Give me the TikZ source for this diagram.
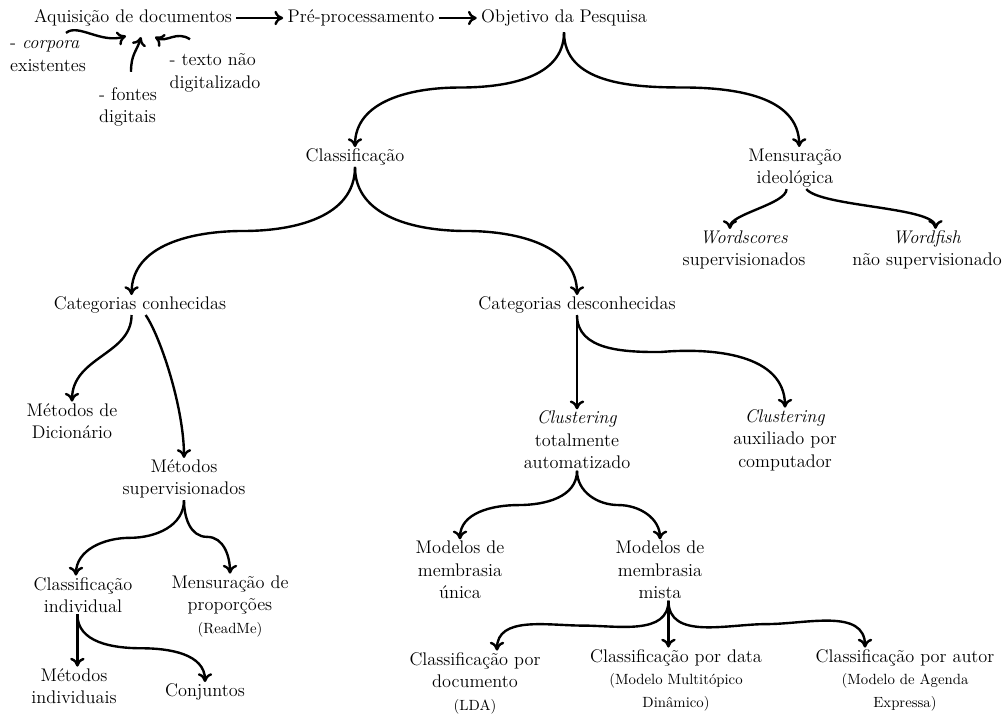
\documentclass[tikz,border=0pt]{standalone}
\usepackage{tikz}
\usetikzlibrary{calc,arrows.meta}
\newcommand{\pequeno}{\fontsize{10.5}{12}\selectfont}

\begin{document}
\begin{tikzpicture}[x=0.025cm, y=-0.025cm,
  every node/.style={font=\fontsize{13}{16}\selectfont, inner sep=1pt, align=center},
  seta/.style={-{To[length=2.2mm,width=3.6mm]}, line width=1.7pt}]
\useasboundingbox (0,0) rectangle (1003,713);

% linha de cima
\node (aq) at (133,18) {Aquisição de documentos};
\node (pre) at (361,18) {Pré-processamento};
\node (obj) at (564,18) {Objetivo da Pesquisa};
\draw[seta] ([xshift=2pt]aq.east) -- ([xshift=-2pt]pre.west);
\draw[seta] ([xshift=2pt]pre.east) -- ([xshift=-2pt]obj.west);

\node[align=left] (corp) at (48,56) {- \emph{corpora}\\existentes};
\node[align=left] (fon) at (128,107) {- fontes\\digitais};
\node[align=left] (tex) at (215,73) {- texto não\\digitalizado};
\draw[seta] ([shift={(18,-6)}]corp.north) .. controls +(12,-10) and +(-25,8) .. ([shift={(-7,8)}]aq.south);
\draw[seta] ([shift={(3,-14)}]fon.north) .. controls +(0,-18) and +(-4,14) .. ([shift={(8,9)}]aq.south);
\draw[seta] ([shift={(-25,-13)}]tex.north) .. controls +(-14,-9) and +(12,6) .. ([shift={(22,9)}]aq.south);

% objetivo
\node (cls) at (355,157) {Classificação};
\node (men) at (795,168) {Mensuração\\ideológica};
\draw[seta] ([yshift=-3pt]obj.south) to[out=-90,in=0] ($(obj.south)!.5!(cls.north)$) to[out=180,in=90] (cls.north);
\draw[seta] ([yshift=-3pt]obj.south) to[out=-90,in=180] ($(obj.south)!.5!([xshift=3pt]men.north)$) to[out=0,in=90] ([xshift=3pt]men.north);

\node (ws) at (744,250) {\emph{Wordscores}\\supervisionados};
\node (wf) at (927,250) {\emph{Wordfish}\\não supervisionado};
\draw[seta] ([xshift=-6pt]men.south) .. controls +(0,15) and +(0,-15) .. ([xshift=-10pt]ws.north);
\draw[seta] ([xshift=8pt]men.south) .. controls +(15,18) and +(0,-22) .. ([xshift=6pt]wf.north);

% classificacao
\node (catc) at (140,305) {Categorias conhecidas};
\node (catd) at (577,305) {Categorias desconhecidas};
\draw[seta] (cls.south) to[out=-90,in=0] ($(cls.south)!.5!([xshift=-6pt]catc.north)$) to[out=180,in=90] ([xshift=-6pt]catc.north);
\draw[seta] (cls.south) to[out=-90,in=180] ($(cls.south)!.5!(catd.north)$) to[out=0,in=90] (catd.north);

\node (dic) at (72,421) {Métodos de\\Dicionário};
\node (sup) at (184,479) {Métodos\\supervisionados};
\draw[seta] ([xshift=-6pt]catc.south) .. controls +(0,40) and +(0,-45) .. (dic.north);
\draw[seta] ([xshift=4pt]catc.south) .. controls +(15,22) and +(0,-50) .. (sup.north);

\node (ci) at (83,595) {Classificação\\individual};
\node (mp) at (230,606) {Mensuração de\\proporções\\{\pequeno(ReadMe)}};
\draw[seta] (sup.south) to[out=-90,in=0] ($(sup.south)!.5!([xshift=-5pt]ci.north)$) to[out=180,in=90] ([xshift=-5pt]ci.north);
\draw[seta] (sup.south) to[out=-90,in=180] ($(sup.south)!.5!(mp.north)$) to[out=0,in=90] (mp.north);

\node (mi) at (74,686) {Métodos\\individuais};
\node (conj) at (205,692) {Conjuntos};
\draw[seta] ([xshift=-4pt]ci.south) -- ([xshift=-4pt]ci.south |- mi.north);
\draw[seta] ([xshift=-4pt]ci.south) to[out=-90,in=180] ($([xshift=-4pt]ci.south)!.5!(conj.north)$) to[out=0,in=90] (conj.north);

% categorias desconhecidas
\node (ct) at (577,440) {\emph{Clustering}\\totalmente\\automatizado};
\node (ca) at (785,440) {\emph{Clustering}\\auxiliado por\\computador};
\draw[seta] (catd.south) -- (ct.north);
\draw[seta] (catd.south) to[out=-90,in=180] ($(catd.south)!.4!(ca.north)$) to[out=5,in=90] (ca.north);

\node (mu) at (460,570) {Modelos de\\membrasia\\única};
\node (mm) at (660,570) {Modelos de\\membrasia\\mista};
\draw[seta] (ct.south) to[out=-90,in=0] ($(ct.south)!.5!(mu.north)$) to[out=180,in=90] (mu.north);
\draw[seta] (ct.south) to[out=-90,in=180] ($(ct.south)!.5!(mm.north)$) to[out=0,in=90] (mm.north);

\node (cd) at (475,683) {Classificação por\\documento\\{\pequeno(LDA)}};
\node (cdat) at (676,680) {Classificação por data\\{\pequeno(Modelo Multitópico}\\{\pequeno Dinâmico)}};
\node (caut) at (905,680) {Classificação por autor\\{\pequeno(Modelo de Agenda}\\{\pequeno Expressa)}};
\draw[seta] ([xshift=6pt]mm.south) to[out=-90,in=0] ($([xshift=6pt]mm.south)!.5!([shift={(22,0)}]cd.north)$) to[out=180,in=90] ([shift={(22,0)}]cd.north);
\draw[seta] ([xshift=6pt]mm.south) -- ([xshift=6pt]mm.south |- cdat.north);
\draw[seta] ([xshift=6pt]mm.south) to[out=-90,in=180] ($([xshift=6pt]mm.south)!.5!([shift={(-40,0)}]caut.north)$) to[out=0,in=90] ([shift={(-40,0)}]caut.north);
\end{tikzpicture}
\end{document}
